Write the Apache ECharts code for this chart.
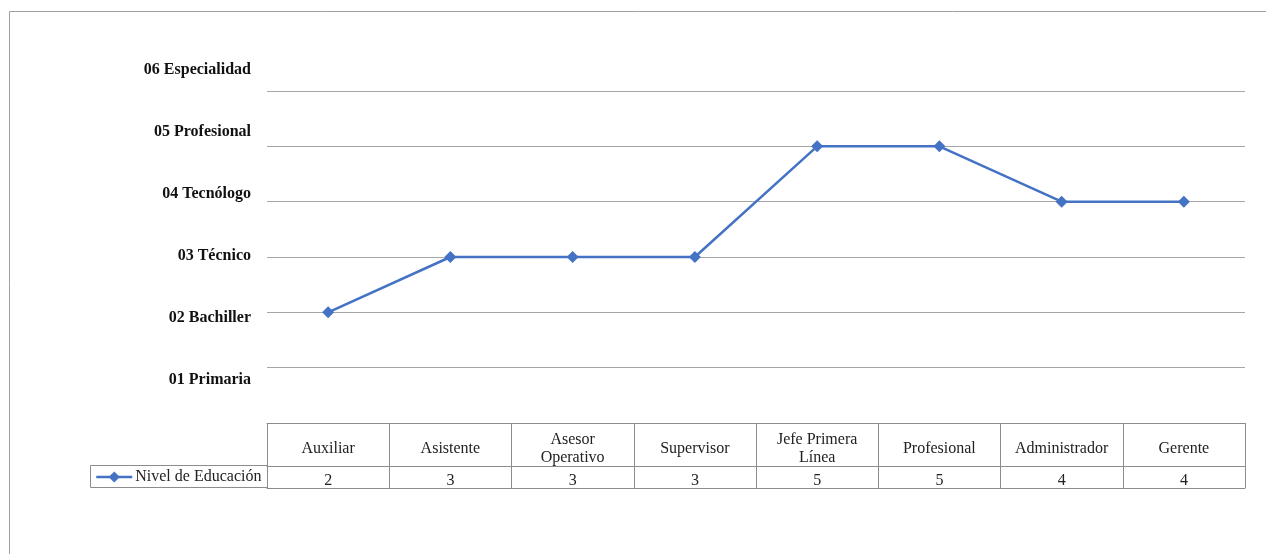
<!DOCTYPE html>
<html>
<head>
<meta charset="utf-8">
<script src="https://cdn.jsdelivr.net/npm/echarts@6/dist/echarts.min.js"></script>
<style>
  html, body { margin: 0; padding: 0; background: #ffffff; }
  #chart { width: 1266px; height: 554px; }
</style>
</head>
<body>
<div id="chart"></div>
<script>
// Cargos evaluados y nivel de educación requerido
const categories = ['Auxiliar', 'Asistente', 'Asesor\nOperativo', 'Supervisor', 'Jefe Primera\nLínea', 'Profesional', 'Administrador', 'Gerente'];
const levels = [2, 3, 3, 3, 5, 5, 4, 4];
const levelNames = ['', '01 Primaria', '02 Bachiller', '03 Técnico', '04 Tecnólogo', '05 Profesional', '06 Especialidad'];
const seriesName = 'Nivel de Educación';

const SERIF = '"Liberation Serif", "Times New Roman", serif';
const GRID_GRAY = '#a6a6a6';
const TABLE_GRAY = '#8c8c8c';
const LINE_BLUE = '#4472C4';

const chart = echarts.init(document.getElementById('chart'), null, { renderer: 'canvas' });

chart.setOption({
  animation: false,
  backgroundColor: '#ffffff',
  graphic: [
    // marco exterior del gráfico
    { type: 'rect', shape: { x: 9.5, y: 11.5, width: 1300, height: 600 },
      style: { fill: 'none', stroke: '#a0a0a0', lineWidth: 1 }, silent: true },
    // celda de la leyenda en la tabla de datos
    { type: 'rect', shape: { x: 90.5, y: 465.5, width: 177, height: 22 },
      style: { fill: 'none', stroke: TABLE_GRAY, lineWidth: 1 }, silent: true }
  ],
  legend: {
    data: [seriesName],
    left: 95, top: 469,
    itemWidth: 36, itemHeight: 14,
    padding: 0,
    lineStyle: { width: 2.5 },
    textStyle: { fontFamily: SERIF, fontSize: 16, color: '#222222', padding: [2, 0, 0, -2] }
  },
  grid: [
    { left: 267, right: 21, top: 91, bottom: 131, containLabel: false },
    { left: 267, right: 21, top: 70, bottom: 112, containLabel: false }
  ],
  xAxis: [
    {
      type: 'category', gridIndex: 0, data: categories, boundaryGap: true,
      axisLine: { show: true, lineStyle: { color: TABLE_GRAY, width: 1 } },
      axisTick: { show: true, length: 65, lineStyle: { color: TABLE_GRAY, width: 1 } },
      axisLabel: {
        interval: 0, margin: 26, verticalAlign: 'middle',
        fontFamily: SERIF, fontSize: 16, lineHeight: 18, color: '#222222'
      },
      splitLine: { show: false }
    },
    {
      type: 'category', gridIndex: 0, data: categories, boundaryGap: true,
      position: 'bottom', offset: 43,
      axisLine: { show: true, lineStyle: { color: TABLE_GRAY, width: 1 } },
      axisTick: { show: false },
      axisLabel: {
        interval: 0, margin: 15, verticalAlign: 'middle',
        fontFamily: SERIF, fontSize: 16, color: '#222222',
        formatter: (v, i) => String(levels[i])
      }
    },
    {
      type: 'category', gridIndex: 0, data: categories, boundaryGap: true,
      position: 'bottom', offset: 65,
      axisLine: { show: true, lineStyle: { color: TABLE_GRAY, width: 1 } },
      axisTick: { show: false },
      axisLabel: { show: false }
    },
    {
      type: 'category', gridIndex: 1, data: categories, show: false
    }
  ],
  yAxis: [
    {
      type: 'value', gridIndex: 0, min: 0, max: 6, interval: 1,
      axisLine: { show: false }, axisTick: { show: false }, axisLabel: { show: false },
      splitLine: { show: true, lineStyle: { color: GRID_GRAY, width: 1 } }
    },
    {
      type: 'value', gridIndex: 1, min: 0, max: 6, interval: 1,
      axisLine: { show: false }, axisTick: { show: false }, splitLine: { show: false },
      axisLabel: {
        margin: 16, fontFamily: SERIF, fontSize: 16, fontWeight: 'bold', color: '#111111',
        formatter: v => levelNames[v] || ''
      }
    }
  ],
  series: [
    {
      name: seriesName, type: 'line', xAxisIndex: 0, yAxisIndex: 0,
      data: levels,
      symbol: 'diamond', symbolSize: 12,
      lineStyle: { color: LINE_BLUE, width: 2.5 },
      itemStyle: { color: LINE_BLUE },
      emphasis: { disabled: true }
    }
  ]
});
</script>
</body>
</html>
